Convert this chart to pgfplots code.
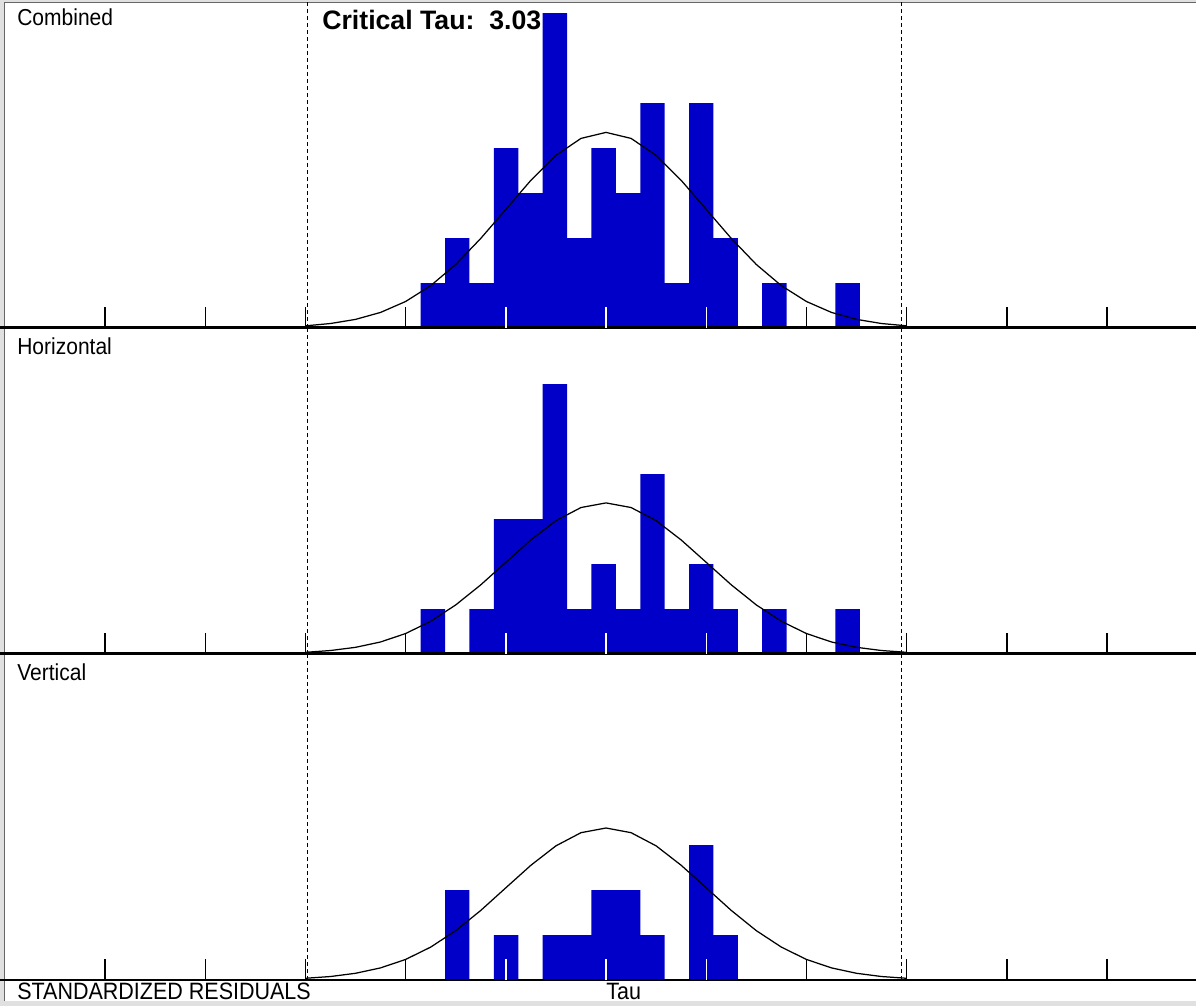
\documentclass[border=0pt]{standalone}
\usepackage{pgfplots}
\pgfplotsset{compat=1.18}
\usepackage{fontspec}
\setmainfont{Liberation Sans}
\definecolor{barblue}{RGB}{0,0,200}
\pgfplotsset{
  panel/.style={
    scale only axis, width=717.6pt, height=195.6pt,
    anchor=south west,
    xmin=-6.048, xmax=5.888, ymin=0, ymax=7.25,
    axis on top,
    axis x line*=bottom, axis y line=none,
    x axis line style={-, line width=1.8pt},
    ytick=\empty,
    xtick={-5,-4,-3,-2,2,3,4,5}, xticklabels={},
    tick align=inside,
    major tick length=12.6pt,
    major tick style={black, line width=0.85pt},
    extra x ticks={-1,0,1}, extra x tick labels={},
    extra x tick style={major tick style={white, line width=0.85pt}},
  },
  bars/.style={ybar interval, fill=barblue, draw=none},
  curve/.style={black, line width=0.75pt},
  crit/.style={black, line width=0.85pt, dash pattern=on 2.6pt off 1.6pt},
}
\begin{document}
\begin{tikzpicture}
% frame
\fill[black!12] (0pt,0pt) rectangle (717.6pt,603.6pt);
\fill[white] (2.4pt,3.0pt) rectangle (717.6pt,601.8pt);
\draw[black!60, line width=0.6pt] (2.4pt,3.0pt) -- (2.4pt,601.8pt) -- (717.6pt,601.8pt);
% labels
\node[anchor=north west, inner sep=0pt, yscale=1.1, font=\fontsize{12.6}{14}\selectfont] at (10.2pt,598.8pt) {Combined};
\node[anchor=north west, inner sep=0pt, yscale=1.1, font=\fontsize{12.6}{14}\selectfont] at (10.2pt,401.2pt) {Horizontal};
\node[anchor=north west, inner sep=0pt, yscale=1.1, font=\fontsize{12.6}{14}\selectfont] at (10.2pt,205.8pt) {Vertical};
\node[anchor=north west, inner sep=0pt, font=\fontsize{16}{18}\selectfont\bfseries] at (193.2pt,597.6pt) {Critical Tau:\ \ 3.03};
\node[anchor=north west, inner sep=0pt, yscale=1.1, font=\fontsize{12.9}{14}\selectfont] at (10.2pt,13.8pt) {STANDARDIZED RESIDUALS};
\node[anchor=north west, inner sep=0pt, yscale=1.1, font=\fontsize{12.9}{14}\selectfont] at (363.6pt,13.8pt) {Tau};

% Combined
\begin{axis}[panel, at={(0pt,406.8pt)}]
\addplot[bars] coordinates {(-1.850,1) (-1.607,2) (-1.363,1) (-1.120,4) (-0.876,3) (-0.633,7) (-0.389,2) (-0.146,4) (0.098,3) (0.342,5) (0.585,1) (0.829,5) (1.072,2) (1.316,0) (1.559,1) (1.803,0) (2.046,0) (2.290,1) (2.533,0)};
\addplot[curve] coordinates {(-3.00,0.048) (-2.75,0.099) (-2.50,0.191) (-2.25,0.346) (-2.00,0.589) (-1.75,0.941) (-1.50,1.412) (-1.25,1.992) (-1.00,2.638) (-0.75,3.284) (-0.50,3.839) (-0.25,4.216) (0.00,4.350) (0.25,4.216) (0.50,3.839) (0.75,3.284) (1.00,2.638) (1.25,1.992) (1.50,1.412) (1.75,0.941) (2.00,0.589) (2.25,0.346) (2.50,0.191) (2.75,0.099) (3.00,0.048)};
\addplot[crit] coordinates {(-2.98,0) (-2.98,7.25)};
\addplot[crit] coordinates {(2.95,0) (2.95,7.25)};
\end{axis}

% Horizontal
\begin{axis}[panel, at={(0pt,211.2pt)}]
\addplot[bars] coordinates {(-1.850,1) (-1.607,0) (-1.363,1) (-1.120,3) (-0.876,3) (-0.633,6) (-0.389,1) (-0.146,2) (0.098,1) (0.342,4) (0.585,1) (0.829,2) (1.072,1) (1.316,0) (1.559,1) (1.803,0) (2.046,0) (2.290,1) (2.533,0)};
\addplot[curve] coordinates {(-3.00,0.037) (-2.75,0.077) (-2.50,0.148) (-2.25,0.267) (-2.00,0.455) (-1.75,0.727) (-1.50,1.091) (-1.25,1.538) (-1.00,2.038) (-0.75,2.536) (-0.50,2.965) (-0.25,3.257) (0.00,3.360) (0.25,3.257) (0.50,2.965) (0.75,2.536) (1.00,2.038) (1.25,1.538) (1.50,1.091) (1.75,0.727) (2.00,0.455) (2.25,0.267) (2.50,0.148) (2.75,0.077) (3.00,0.037)};
\addplot[crit] coordinates {(-2.98,0) (-2.98,7.25)};
\addplot[crit] coordinates {(2.95,0) (2.95,7.25)};
\end{axis}

% Vertical
\begin{axis}[panel, at={(0pt,15.6pt)}, x axis line style={-, line width=1.2pt}]
\addplot[bars] coordinates {(-1.850,0) (-1.607,2) (-1.363,0) (-1.120,1) (-0.876,0) (-0.633,1) (-0.389,1) (-0.146,2) (0.098,2) (0.342,1) (0.585,0) (0.829,3) (1.072,1) (1.316,0) (1.559,0) (1.803,0) (2.046,0) (2.290,0) (2.533,0)};
\addplot[curve] coordinates {(-3.00,0.038) (-2.75,0.077) (-2.50,0.149) (-2.25,0.269) (-2.00,0.457) (-1.75,0.731) (-1.50,1.097) (-1.25,1.547) (-1.00,2.050) (-0.75,2.551) (-0.50,2.983) (-0.25,3.276) (0.00,3.380) (0.25,3.276) (0.50,2.983) (0.75,2.551) (1.00,2.050) (1.25,1.547) (1.50,1.097) (1.75,0.731) (2.00,0.457) (2.25,0.269) (2.50,0.149) (2.75,0.077) (3.00,0.038)};
\addplot[crit] coordinates {(-2.98,0) (-2.98,7.25)};
\addplot[crit] coordinates {(2.95,0) (2.95,7.25)};
\end{axis}
\pgfresetboundingbox
\useasboundingbox (0pt,0pt) rectangle (717.6pt,603.6pt);
\end{tikzpicture}
\end{document}
